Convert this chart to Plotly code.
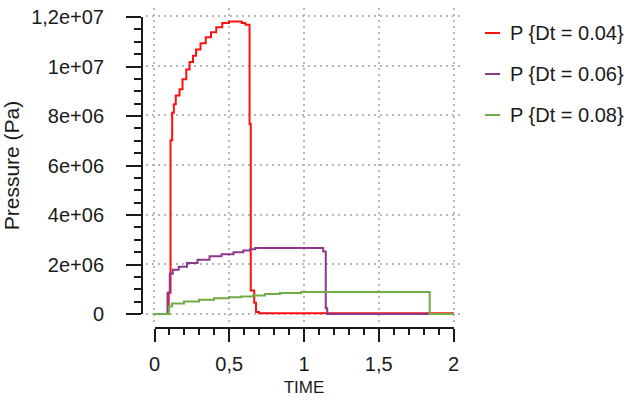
import plotly.graph_objects as go

# Pressure histories for three time-step sizes (step-wise solver output)
series_names = ["P {Dt = 0.04}", "P {Dt = 0.06}", "P {Dt = 0.08}"]
series_colors = ["#ff1010", "#8b3a8b", "#70ad47"]

t_dt004 = [0.0, 0.098, 0.110, 0.121, 0.132, 0.145, 0.170, 0.190, 0.215, 0.237,
           0.260, 0.280, 0.310, 0.345, 0.380, 0.415, 0.455, 0.500, 0.585, 0.610,
           0.637, 0.645, 0.668, 0.680, 0.700, 2.0]
p_dt004 = [0.0, 0.85e6, 7.0e6, 8.1e6, 8.45e6, 8.8e6, 9.05e6, 9.45e6, 9.85e6, 10.15e6,
           10.4e6, 10.65e6, 10.9e6, 11.15e6, 11.35e6, 11.55e6, 11.72e6, 11.78e6, 11.72e6, 11.65e6,
           7.65e6, 0.95e6, 0.45e6, 0.08e6, 0.03e6, 0.03e6]

t_dt006 = [0.0, 0.090, 0.105, 0.125, 0.165, 0.220, 0.290, 0.370, 0.450, 0.530,
           0.595, 0.640, 0.675, 1.128, 1.145, 1.155, 2.0]
p_dt006 = [0.0, 0.85e6, 1.62e6, 1.78e6, 1.90e6, 2.05e6, 2.18e6, 2.32e6, 2.41e6, 2.49e6,
           2.56e6, 2.61e6, 2.66e6, 2.52e6, 0.23e6, 0.0, 0.0]

t_dt008 = [0.0, 0.100, 0.120, 0.200, 0.300, 0.400, 0.500, 0.580, 0.660, 0.740,
           0.840, 0.980, 1.838, 2.0]
p_dt008 = [0.0, 0.30e6, 0.42e6, 0.50e6, 0.57e6, 0.63e6, 0.67e6, 0.70e6, 0.74e6, 0.80e6,
           0.84e6, 0.88e6, 0.0, 0.0]

x_tickvals = [0, 0.5, 1, 1.5, 2]
x_ticktext = ["0", "0,5", "1", "1,5", "2"]
y_tickvals = [0, 2e6, 4e6, 6e6, 8e6, 10e6, 12e6]
y_ticktext = ["0", "2e+06", "4e+06", "6e+06", "8e+06", "1e+07", "1,2e+07"]

W, H = 630, 407
FONT = "Liberation Sans, Arial, sans-serif"
INK = "#1a1a1a"


def px_x(v):
    return v / W


def px_y(v):
    return 1 - v / H


fig = go.Figure()

all_t = [t_dt004, t_dt006, t_dt008]
all_p = [p_dt004, p_dt006, p_dt008]
for name, color, t, p in zip(series_names, series_colors, all_t, all_p):
    fig.add_trace(go.Scatter(
        x=t, y=p, name=name, mode="lines",
        line=dict(color=color, width=2, shape="hv"),
        xaxis="x", yaxis="y", showlegend=False,
    ))

# invisible anchor trace so the detached tick axes are drawn
fig.add_trace(go.Scatter(
    x=[0], y=[0], mode="markers", marker=dict(opacity=0),
    xaxis="x2", yaxis="y2", showlegend=False, hoverinfo="skip",
))

# plot area (with a little padding around the data range) carries the grid
x_pad = 8 / 149.5
y_pad = 8 / 24.75 * 1e6
grid = dict(showgrid=True, gridcolor="#b8b8b8", gridwidth=1.5, griddash="2px,4px",
            showline=False, ticks="", showticklabels=False, zeroline=False,
            automargin=False)

fig.update_layout(
    width=W, height=H,
    margin=dict(l=0, r=0, t=0, b=0, autoexpand=False),
    paper_bgcolor="white", plot_bgcolor="rgba(0,0,0,0)",
    font=dict(family=FONT, size=20, color=INK),
    xaxis=dict(domain=[px_x(146), px_x(462)], range=[-x_pad, 2 + x_pad],
               tickvals=x_tickvals, **grid),
    yaxis=dict(domain=[px_y(322), px_y(8)], range=[-y_pad, 12e6 + y_pad],
               tickvals=y_tickvals, **grid),
    xaxis2=dict(domain=[px_x(154.5), px_x(453.5)], range=[0, 2],
                anchor="free", position=px_y(328), automargin=False,
                showgrid=False, zeroline=False,
                showline=True, linecolor=INK, linewidth=2,
                ticks="outside", ticklen=13, tickwidth=2, tickcolor=INK,
                tickvals=x_tickvals, ticktext=x_ticktext,
                ticklabelstandoff=5,
                minor=dict(dtick=0.1, ticks="outside", ticklen=6, tickwidth=2, tickcolor=INK),
                title=dict(text="TIME", standoff=6, font=dict(size=17))),
    yaxis2=dict(domain=[px_y(314), px_y(17)], range=[0, 12e6],
                anchor="free", position=px_x(142), automargin=False,
                showgrid=False, zeroline=False,
                showline=True, linecolor=INK, linewidth=2,
                ticks="outside", ticklen=15, tickwidth=2, tickcolor=INK,
                tickvals=y_tickvals, ticktext=y_ticktext,
                ticklabelstandoff=18,
                minor=dict(dtick=5e5, ticks="outside", ticklen=7, tickwidth=2, tickcolor=INK),
                title=dict(text="Pressure (Pa)", standoff=5, font=dict(size=21))),
)

# legend: short colour key plus label for each series
legend_rows = [33, 74, 115]
for name, color, row in zip(series_names, series_colors, legend_rows):
    fig.add_shape(type="line", xref="paper", yref="paper",
                  x0=px_x(485), x1=px_x(500), y0=px_y(row), y1=px_y(row),
                  line=dict(color=color, width=2))
    fig.add_annotation(xref="paper", yref="paper", x=px_x(508), y=px_y(row),
                       text=name, showarrow=False, xanchor="left", yanchor="middle",
                       font=dict(family=FONT, size=20, color=INK))

fig.write_html("out.html")
